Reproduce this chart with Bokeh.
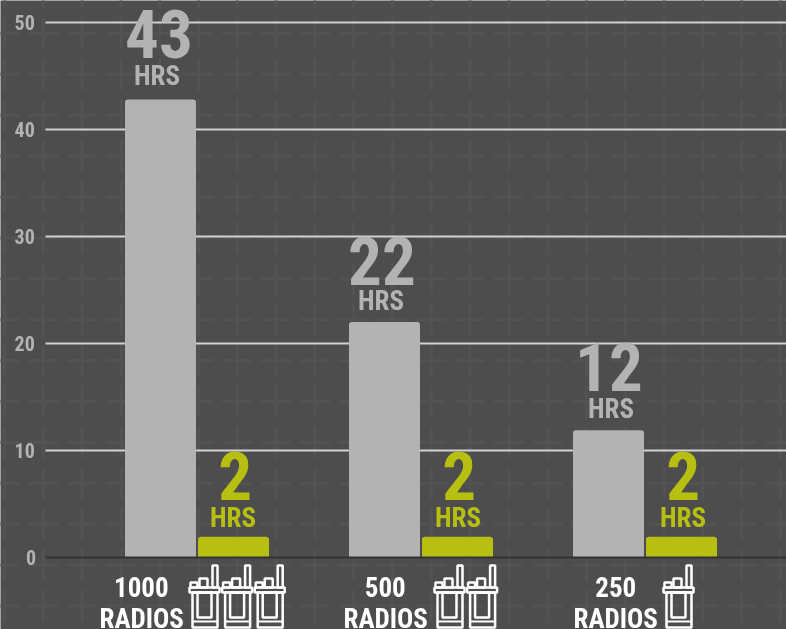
from bokeh.plotting import figure
from bokeh.embed import file_html
from bokeh.resources import INLINE
from bokeh.models import Range1d, FixedTicker, ColumnDataSource
from bokeh.core.properties import value
import numpy as np

groups = [0, 1, 2]
manual_hours = [42.8, 22.0, 11.9]
auto_hours = [1.95, 1.95, 1.95]
manual_labels = ["43", "22", "12"]
auto_labels = ["2", "2", "2"]
unit_labels = ["HRS", "HRS", "HRS"]
y_ticks = [0, 10, 20, 30, 40, 50]
radio_counts = ["1000", "500", "250"]
radio_words = ["RADIOS", "RADIOS", "RADIOS"]
radio_icons = [3, 2, 1]

GRAY, GREEN, BG, FONT = "#b3b3b3", "#b7bf10", "#4d4d4d", "Roboto"
W, H = 786, 629

# pixel <-> data helpers for decoration that is not data
def X(px): return (np.asarray(px, dtype=float) - 196.5) / 224.0
def Y(py): return (557.0 - np.asarray(py, dtype=float)) / 10.7

p = figure(width=W, height=H, output_backend="svg", toolbar_location=None,
           x_range=Range1d(float(X(0)), float(X(W))), y_range=Range1d(float(Y(H)), float(Y(0))),
           min_border=0, background_fill_color=BG, border_fill_color=BG, outline_line_color=None,
           x_axis_location="below", y_axis_location="left",
           styles={"position": "fixed", "left": "0px", "top": "0px", "font-stretch": "condensed"})
p.grid.visible = False

# faint background pattern
cx = np.arange(4, 800, 38.8)
cy = np.arange(-8, 660, 40.9)
gx, gy = np.meshgrid(cx, cy)
gx, gy = gx.ravel(), gy.ravel()
p.segment(X(gx - 15), Y(gy), X(gx + 15), Y(gy), line_color="#535353", line_width=3, level="underlay")
p.segment(X(gx), Y(gy - 16), X(gx), Y(gy + 16), line_color="#535353", line_width=3, level="underlay")

# value gridlines
grid_y = y_ticks[1:]
p.segment(x0=[float(X(45))] * len(grid_y), y0=grid_y, x1=[float(X(W))] * len(grid_y),
          y1=grid_y, line_color="#d2d2d2", line_width=2, level="underlay")

# axes placed in the frame
ya = p.yaxis[0]
ya.fixed_location = float(X(45))
ya.ticker = FixedTicker(ticks=y_ticks)
ya.axis_line_color = None
ya.major_tick_line_color = None
ya.minor_tick_line_color = None
ya.major_label_standoff = 2
ya.major_label_text_color = GRAY
ya.major_label_text_font = FONT
ya.major_label_text_font_style = "bold"
ya.major_label_text_font_size = "20px"

xa = p.xaxis[0]
xa.fixed_location = 0
xticks = [float(X(144.5)), float(X(387.5)), float(X(618))]
xa.ticker = FixedTicker(ticks=xticks)
xa.major_label_overrides = dict(zip(xticks, radio_counts))
xa.bounds = (float(X(45)), float(X(W)))
xa.axis_line_color = "#333333"
xa.axis_line_width = 2
xa.major_tick_line_color = None
xa.minor_tick_line_color = None
xa.major_label_standoff = 13
xa.major_label_text_color = "#ffffff"
xa.major_label_text_font = FONT
xa.major_label_text_font_style = "bold"
xa.major_label_text_font_size = "27px"
xa.major_label_text_align = "center"

# bars
d, bw = 0.163, 0.317
man_x = [g - d for g in groups]
aut_x = [g + d for g in groups]
p.vbar(x=man_x, top=manual_hours, width=bw, fill_color=GRAY, line_color=None, border_radius=(3, 3, 0, 0))
p.vbar(x=aut_x, top=auto_hours, width=bw, fill_color=GREEN, line_color=None, border_radius=(3, 3, 0, 0))

def labels(xs, tops, txt, color, size, yoff, xoff):
    src = ColumnDataSource(dict(x=xs, y=tops, t=txt, o=yoff, h=xoff))
    p.text("x", "y", text="t", source=src, y_offset="o", x_offset="h", text_color=color,
           text_font=value(FONT), text_font_style="bold", text_font_size=size,
           text_align="center", text_baseline="alphabetic")

labels(man_x, manual_hours, manual_labels, GRAY, "67px", [-66, -61, -63], [3, 2, 5])
labels(man_x, manual_hours, unit_labels, GRAY, "27px", [-24, -21, -21], [0, 0, 6])
labels(aut_x, auto_hours, auto_labels, GREEN, "67px", [-61, -61, -61], [4, 4, 4])
labels(aut_x, auto_hours, unit_labels, GREEN, "27px", [-19, -19, -19], [3, 4, 5])

word_x = [float(v) for v in X([147, 391, 621])]
word_y = [float(Y(627.5))] * 3
labels(word_x, word_y, radio_words, "#ffffff", "27px", [-9, -9, -9], [0, 0, 0])

# radio icons
starts = [189, 434, 663]
left, right, top, bottom = [], [], [], []
hx0, hx1, hy = [], [], []
for s, n in zip(starts, radio_icons):
    for i in range(n):
        ox = s + i * 32.6
        for a, b, c, e in [(23, 28, 565, 587), (1, 8, 582, 587), (10, 18, 578, 587),
                           (0, 30, 587, 592), (3, 28, 592, 627), (8, 22, 592, 617)]:
            left.append(ox + a); right.append(ox + b); top.append(c); bottom.append(e)
        hx0.append(ox + 3); hx1.append(ox + 28); hy.append(621)
p.quad(left=X(left), right=X(right), top=Y(top), bottom=Y(bottom), fill_alpha=0, line_color="#ffffff", line_width=2.5)
p.segment(X(hx0), Y(hy), X(hx1), Y(hy), line_color="#ffffff", line_width=2)

open("out.html", "w").write(file_html(p, INLINE))
